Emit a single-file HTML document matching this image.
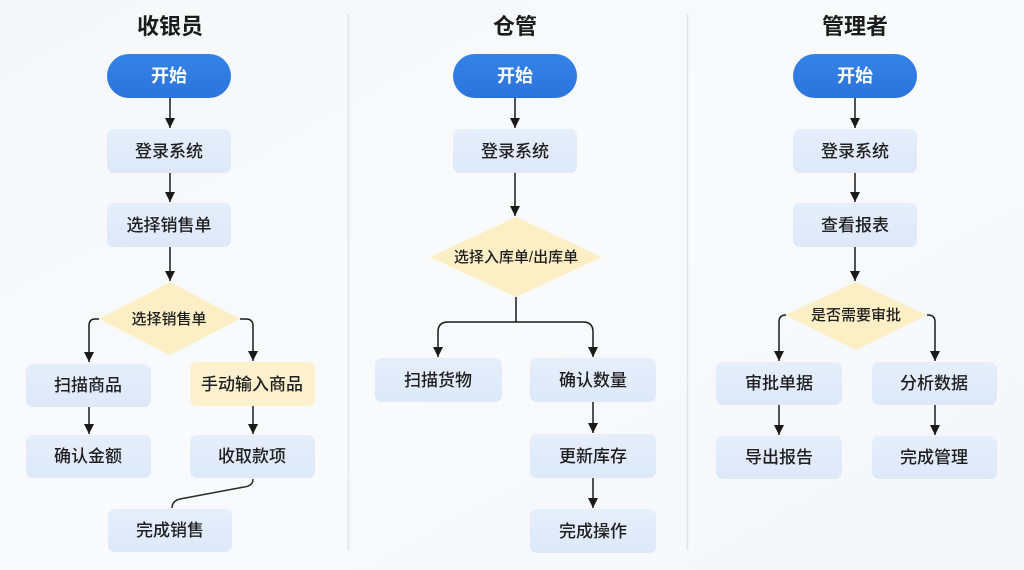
<!DOCTYPE html>
<html><head><meta charset="utf-8">
<style>
html,body{margin:0;padding:0;}
body{width:1024px;height:570px;overflow:hidden;background:#f6f9fb;}
svg{display:block;}
text{font-family:"Liberation Sans","Noto Sans CJK SC",sans-serif;}
</style></head>
<body>
<svg width="1024" height="570" viewBox="0 0 1024 570" xmlns="http://www.w3.org/2000/svg">
<defs>
<linearGradient id="bg" x1="0" y1="0" x2="1" y2="1">
<stop offset="0" stop-color="#f5f8fa"/><stop offset="0.5" stop-color="#f8fafc"/><stop offset="1" stop-color="#f4f8fb"/>
</linearGradient>
<linearGradient id="box" x1="0" y1="0" x2="0" y2="1">
<stop offset="0" stop-color="#e6eefb"/><stop offset="1" stop-color="#dde8f9"/>
</linearGradient>
<linearGradient id="pill" x1="0" y1="0" x2="0" y2="1">
<stop offset="0" stop-color="#3583e8"/><stop offset="1" stop-color="#2b74dc"/>
</linearGradient>
<marker id="ah" viewBox="0 0 10 10" refX="10" refY="5" markerWidth="10" markerHeight="11" markerUnits="userSpaceOnUse" orient="auto">
<path d="M0,0 L10,5 L0,10 z" fill="#1a1a1a"/>
</marker>
</defs>
<rect width="1024" height="570" fill="url(#bg)"/>

<!-- dividers -->
<line x1="348.5" y1="14" x2="348.5" y2="550" stroke="#e2e4e6" stroke-width="1.5"/>
<line x1="687.5" y1="14" x2="687.5" y2="550" stroke="#e2e4e6" stroke-width="1.5"/>

<!-- titles -->
<g font-size="22" font-weight="bold" fill="#1c1c1c" text-anchor="middle">
<text x="170" y="34">收银员</text>
<text x="515" y="34">仓管</text>
<text x="855" y="34">管理者</text>
</g>

<!-- pills -->
<g fill="url(#pill)">
<rect x="107" y="54" width="124" height="44" rx="22"/>
<rect x="453" y="54" width="124" height="44" rx="22"/>
<rect x="793" y="54" width="124" height="44" rx="22"/>
</g>
<g font-size="18" font-weight="bold" fill="#fff" text-anchor="middle">
<text x="169" y="82">开始</text>
<text x="515" y="82">开始</text>
<text x="855" y="82">开始</text>
</g>

<!-- boxes -->
<g fill="url(#box)">
<rect x="107" y="129" width="124" height="44" rx="7"/>
<rect x="107" y="203" width="124" height="44" rx="7"/>
<rect x="26" y="364" width="125" height="43" rx="7"/>
<rect x="26" y="435" width="125" height="43" rx="7"/>
<rect x="190" y="435" width="125" height="43" rx="7"/>
<rect x="108" y="509" width="124" height="43" rx="7"/>

<rect x="453" y="129" width="124" height="44" rx="7"/>
<rect x="375" y="358" width="127" height="44" rx="7"/>
<rect x="530" y="358" width="126" height="44" rx="7"/>
<rect x="530" y="434" width="126" height="44" rx="7"/>
<rect x="530" y="509" width="126" height="44" rx="7"/>

<rect x="793" y="129" width="124" height="44" rx="7"/>
<rect x="793" y="203" width="124" height="44" rx="7"/>
<rect x="716" y="362" width="126" height="43" rx="7"/>
<rect x="716" y="436" width="126" height="43" rx="7"/>
<rect x="872" y="362" width="125" height="43" rx="7"/>
<rect x="872" y="436" width="125" height="43" rx="7"/>
</g>
<rect x="190" y="362" width="125" height="44" rx="7" fill="#fcf0cd"/>

<!-- diamonds -->
<g fill="#fcefc6">
<polygon points="170,282 240,319 170,355 99,319"/>
<polygon points="516,217 602,257 516,297 430,257"/>
<polygon points="856,282 927,315 856,350 785,315"/>
</g>

<!-- box text -->
<g font-size="17" font-weight="500" fill="#1f1f1f" text-anchor="middle">
<text x="169" y="157">登录系统</text>
<text x="169" y="231">选择销售单</text>
<text x="88" y="391">扫描商品</text>
<text x="252" y="390">手动输入商品</text>
<text x="88" y="462">确认金额</text>
<text x="252" y="462">收取款项</text>
<text x="170" y="536">完成销售</text>

<text x="515" y="157">登录系统</text>
<text x="438" y="386">扫描货物</text>
<text x="593" y="386">确认数量</text>
<text x="593" y="462">更新库存</text>
<text x="593" y="537">完成操作</text>

<text x="855" y="157">登录系统</text>
<text x="855" y="231">查看报表</text>
<text x="779" y="389">审批单据</text>
<text x="934" y="389">分析数据</text>
<text x="779" y="463">导出报告</text>
<text x="934" y="463">完成管理</text>
</g>
<g font-size="15" font-weight="500" fill="#1f1f1f" text-anchor="middle">
<text x="169" y="324">选择销售单</text>
<text x="516" y="262">选择入库单/出库单</text>
<text x="856" y="320">是否需要审批</text>
</g>

<!-- connectors -->
<g stroke="#1a1a1a" stroke-width="1.5" fill="none" marker-end="url(#ah)">
<line x1="170" y1="98" x2="170" y2="128"/>
<line x1="170" y1="173" x2="170" y2="202"/>
<line x1="170" y1="247" x2="170" y2="281"/>
<path d="M99 319 L95 319 Q89 319 89 326 L89 362"/>
<path d="M240 319 L246 319 Q253 319 253 326 L253 361"/>
<line x1="89" y1="407" x2="89" y2="434"/>
<line x1="253" y1="406" x2="253" y2="434"/>

<line x1="515" y1="98" x2="515" y2="128"/>
<line x1="515" y1="173" x2="515" y2="216"/>
<path d="M516 297 L516 322 L448 322 Q438 322 438 332 L438 357"/>
<path d="M516 322 L583 322 Q593 322 593 332 L593 357"/>
<line x1="593" y1="402" x2="593" y2="433"/>
<line x1="593" y1="478" x2="593" y2="508"/>

<line x1="855" y1="98" x2="855" y2="128"/>
<line x1="855" y1="173" x2="855" y2="202"/>
<line x1="855" y1="247" x2="855" y2="281"/>
<path d="M785 315 L786 315 Q779 315 779 322 L779 361"/>
<path d="M927 315 L928 315 Q935 315 935 322 L935 361"/>
<line x1="779" y1="405" x2="779" y2="435"/>
<line x1="935" y1="405" x2="935" y2="435"/>
</g>
<path d="M253 479 Q253 486 244 487 L180 499 Q172 501 172 508" stroke="#2a2a2a" stroke-width="1.5" fill="none"/>
</svg>
</body></html>
